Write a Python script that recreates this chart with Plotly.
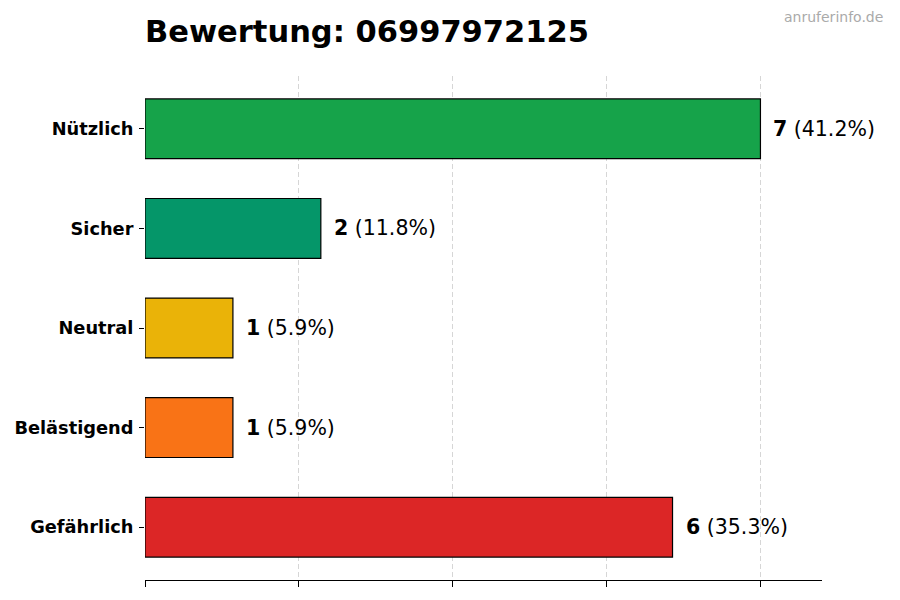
import plotly.graph_objects as go

categories = ["Nützlich", "Sicher", "Neutral", "Belästigend", "Gefährlich"]
counts = [7, 2, 1, 1, 6]
colors = ["#16a34a", "#059669", "#eab308", "#f97316", "#dc2626"]
phone = "06997972125"
x_ticks = [0, 1.75, 3.5, 5.25, 7]

total = sum(counts)

fig = go.Figure()
fig.add_trace(go.Bar(
    y=categories, x=counts, orientation="h", width=0.6,
    marker=dict(color=colors, line=dict(color="black", width=1.2)),
    opacity=1, hoverinfo="skip",
))

for c, v in zip(categories, counts):
    pct = v / total * 100
    fig.add_annotation(
        x=v, y=c, xref="x", yref="y", xanchor="left", yanchor="middle",
        xshift=11, showarrow=False,
        text=f"<b>{v}</b> ({pct:.1f}%)",
        font=dict(family="DejaVu Sans", size=20.5, color="black"),
    )

fig.add_annotation(
    x=1, y=1, xref="paper", yref="paper", xanchor="right", yanchor="top",
    xshift=63, yshift=69, showarrow=False, text="anruferinfo.de",
    font=dict(family="DejaVu Sans", size=14, color="#aaaaaa"),
)

fig.update_layout(
    width=900, height=600,
    paper_bgcolor="white", plot_bgcolor="white",
    margin=dict(l=145, r=78, t=76, b=20),
    showlegend=False,
    title=dict(
        text=f"<b>Bewertung: {phone}</b>",
        x=145 / 900, xanchor="left", xref="container",
        y=1 - 31 / 600, yanchor="middle", yref="container",
        font=dict(family="DejaVu Sans", size=30.5, color="black"),
    ),
    xaxis=dict(
        range=[0, 7.7], tickvals=x_ticks, showticklabels=False,
        ticks="outside", ticklen=6, tickcolor="black", tickwidth=1,
        showgrid=True, gridcolor="#d6d6d6", griddash="5px,3px", gridwidth=1,
        zeroline=False, showline=True, linecolor="black", linewidth=1,
    ),
    yaxis=dict(
        categoryorder="array", categoryarray=categories,
        range=[4.53, -0.53],
        ticks="outside", ticklen=5, tickcolor="black",
        showgrid=False, zeroline=False, showline=False,
        tickfont=dict(family="DejaVu Sans", size=17.8, color="black"),
        ticklabelstandoff=2,
        tickprefix="<b>", ticksuffix="</b>",
    ),
)

fig.write_html("out.html")
